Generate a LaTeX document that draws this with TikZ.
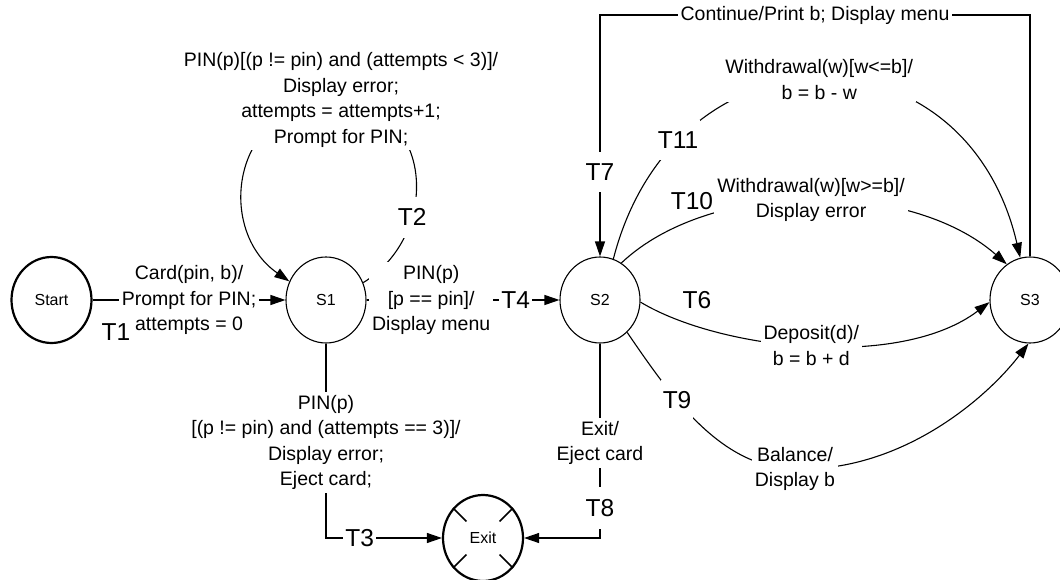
\documentclass[tikz,border=0pt]{standalone}
\usepackage{fontspec}
\setmainfont{Liberation Sans}
\usetikzlibrary{shapes.geometric,arrows.meta,calc}
\begin{document}
\begin{tikzpicture}[x=1pt,y=-1pt,
  state/.style={ellipse, draw, minimum width=80pt, minimum height=86pt, inner sep=0pt,
                line width=1.1pt, font=\fontsize{16pt}{18pt}\selectfont},
  term/.style={state, line width=2.2pt},
  lbl/.style={align=center, font=\fontsize{19.5pt}{25.5pt}\selectfont, fill=white, inner sep=3pt},
  tl/.style={font=\fontsize{24.5pt}{28pt}\selectfont, inner xsep=2pt, inner ysep=12pt},
  tlf/.style={tl, fill=white},
  conn/.style={line width=1.1pt, -{Triangle[length=15pt,width=10pt]}}
]
\fill[white] (0,0) rectangle (1060,580);
\useasboundingbox (0,0) rectangle (1060,580);

% states
\node[term]  (start) at (51.5,300) {Start};
\node[state] (S1) at (326,300) {S1};
\node[state] (S2) at (600,300) {S2};
\node[state] (S3) at (1030,300) {S3};
\node[term]  (exit) at (483,538) {Exit};
\foreach \a in {45,135,225,315}
  \draw[line width=1.5pt] (exit.\a) -- ($(exit.center)!0.55!(exit.\a)$);

\coordinate (topy) at (0,15);

% T1
\draw[conn] (start.east) -- node[lbl] (t1txt) {Card(pin, b)/\\Prompt for PIN;\\attempts = 0} (S1.west);
\node[tl] (t1) at (116,332) {T1};

% T2 self loop
\draw[conn] (S1.25) .. controls (440,235) and (435,110) ..
  node[tlf,pos=0.33] (t2) {T2}
  (341,100) node[lbl] (t2txt) {PIN(p)[(p != pin) and (attempts < 3)]/\\Display error;\\attempts = attempts+1;\\Prompt for PIN;}
  .. controls (230,100) and (215,230) .. (S1.153);

% T4
\draw[conn] (S1.east) -- node[lbl,pos=0.335] (t4txt) {PIN(p)\\{}[p == pin]/\\Display menu}
  node[tlf,pos=0.773] (t4) {T4} (S2.west);

% T3
\draw[conn] (S1.south) |- node[lbl,pos=0.254] (t3txt) {PIN(p)\\{}[(p != pin) and (attempts == 3)]/\\Display error;\\Eject card;}
  node[tlf,pos=0.645] (t3) {T3} (exit.west);

% T8
\draw[conn] (S2.south) |- node[lbl,pos=0.255] (t8txt) {Exit/\\Eject card}
  node[tlf,pos=0.423] (t8) {T8} (exit.east);

% T7
\draw[conn] (S3.north) -- (S3.north |- topy) -- node[lbl] (t7txt) {Continue/Print b; Display menu}
  (S2.north |- topy) -- node[tlf,pos=0.65] (t7) {T7} (S2.north);

% T11
\draw[conn] (S2.72) .. controls (675,20) and (965,20) .. (S3.103)
  node[lbl,pos=0.5] (t11txt) {Withdrawal(w)[w<=b]/\\b = b - w}
  node[tlf,pos=0.21] (t11) {T11};

% T10
\draw[conn] (S2.60) .. controls (710,179) and (910,179) .. (S3.123)
  node[lbl,pos=0.5] (t10txt) {Withdrawal(w)[w>=b]/\\Display error};
\node[tl] (t10) at (692,201) {T10};

% T6
\draw[conn] (S2.-3) .. controls (720,350) and (900,370) .. (S3.183)
  node[lbl,pos=0.5] (t6txt) {Deposit(d)/\\b = b + d};
\node[tl] (t6) at (697,300) {T6};

% T9
\draw[conn] (S2.-50) .. controls (670,395) and (720,468) ..
  node[tlf,pos=0.36] (t9) {T9}
  (795,469) node[lbl] (t9txt) {Balance/\\Display b}
  .. controls (900,472) and (985,400) .. (S3.-92);
\end{tikzpicture}
\end{document}
